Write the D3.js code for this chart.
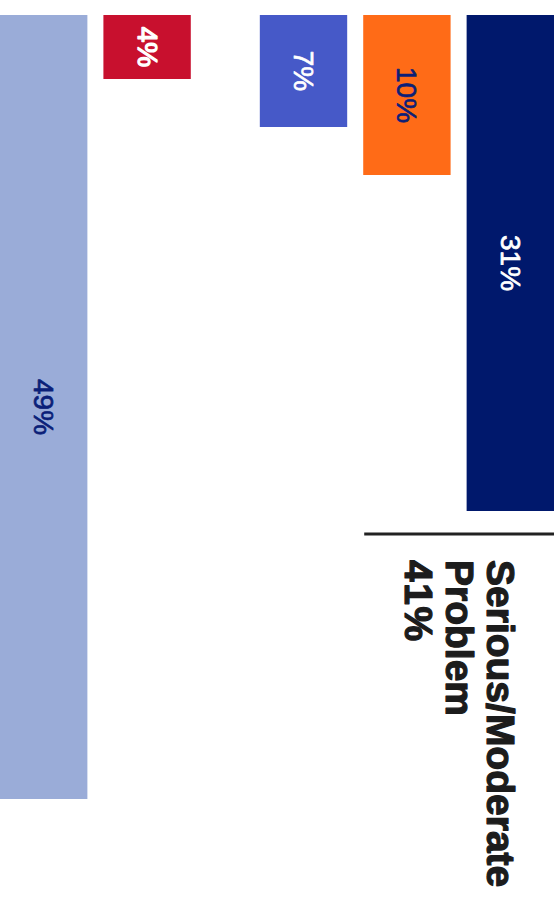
<!DOCTYPE html>
<html>
<head>
<meta charset="utf-8">
<script src="https://cdn.jsdelivr.net/npm/d3@7"></script>
<style>
  html, body { margin: 0; padding: 0; background: #ffffff; }
  svg { display: block; }
</style>
</head>
<body>
<div id="chart"></div>
<script>
// Survey response shares, drawn as bars hanging from the top edge
const categories = ["Serious", "Moderate", "Minor", "Don't know", "Not a problem"];
const values = [31, 10, 7, 4, 49];
const groups = [0, 0, 0, 1, 1];
const barColors = ["#00186c", "#ff6b17", "#4659c8", "#c8102e", "#9aacd8"];
const labelColors = ["#ffffff", "#0b1f78", "#ffffff", "#ffffff", "#0b1f78"];
const bracketLines = ["Serious/Moderate", "Problem", "41%"];
const bracketCats = ["Serious", "Moderate"];

const W = 560, H = 914;
const barTop = 15, groupGap = 53;

const svg = d3.select("#chart").append("svg")
  .attr("width", W).attr("height", H);

const data = categories.map((c, i) => ({
  cat: c, value: values[i], group: groups[i],
  fill: barColors[i], ink: labelColors[i]
}));

// value axis runs downward
const y = d3.scaleLinear().domain([0, 49]).range([barTop, 799]);

// category axis runs right-to-left, with a spacer between the two groups
const x = d3.scaleBand()
  .domain(categories)
  .range([554 - groupGap, 0])
  .paddingInner(0.155)
  .paddingOuter(0);
const xPos = d => x(d.cat) + (d.group === 0 ? groupGap : 0);

svg.selectAll("rect.bar").data(data).join("rect")
  .attr("class", "bar")
  .attr("x", xPos)
  .attr("y", y(0))
  .attr("width", x.bandwidth())
  .attr("height", d => y(d.value) - y(0))
  .attr("fill", d => d.fill);

svg.selectAll("text.val").data(data).join("text")
  .attr("class", "val")
  .attr("transform", d => {
    const cx = xPos(d) + x.bandwidth() / 2;
    const cy = (y(0) + y(d.value)) / 2;
    return `translate(${cx},${cy}) rotate(90)`;
  })
  .attr("text-anchor", "middle")
  .attr("dominant-baseline", "central")
  .attr("font-family", "'Liberation Sans', Arial, sans-serif")
  .attr("font-size", 28)
  .attr("fill", d => d.ink)
  .attr("stroke", d => d.ink)
  .attr("stroke-width", d => d.cat === "Don't know" ? 1.3 : 0.7)
  .attr("stroke-linejoin", "round")
  .text(d => d.value + "%");

// bracket under the combined serious + moderate bars
const bracketData = data.filter(d => bracketCats.includes(d.cat));
const bx0 = d3.min(bracketData, d => xPos(d)) + 1;
const bx1 = d3.max(bracketData, d => xPos(d) + x.bandwidth());
const by = y(d3.max(bracketData, d => d.value)) + 23;

svg.append("line")
  .attr("x1", bx0).attr("x2", bx1)
  .attr("y1", by).attr("y2", by)
  .attr("stroke", "#222222")
  .attr("stroke-width", 3);

const lineStep = 41;
svg.append("g")
  .selectAll("text").data(bracketLines).join("text")
  .attr("transform", (t, i) => `translate(${487 - i * lineStep},${by + 26}) rotate(90)`)
  .attr("font-family", "'Liberation Sans', Arial, sans-serif")
  .attr("font-weight", 700)
  .attr("font-size", 39)
  .attr("letter-spacing", (t, i) => i === 2 ? 1.5 : 0)
  .attr("fill", "#1c1c1c")
  .attr("stroke", "#1c1c1c")
  .attr("stroke-width", 1.2)
  .attr("stroke-linejoin", "round")
  .text(t => t);
</script>
</body>
</html>
